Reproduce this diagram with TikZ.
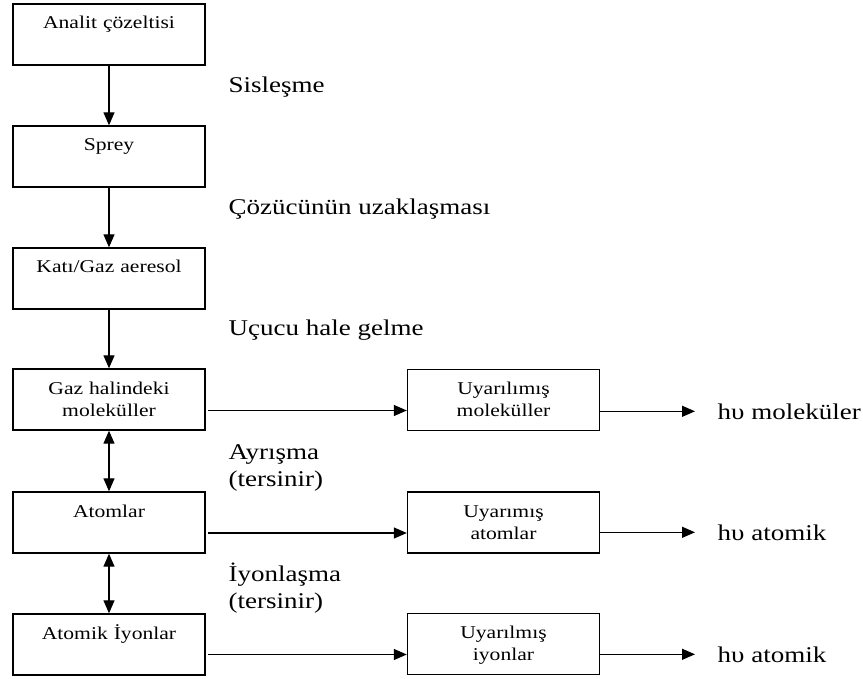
\documentclass[tikz,border=0pt]{standalone}
\usepackage{fontspec}
\setmainfont{Liberation Serif}[FakeStretch=1.2]
\usepackage{tikz}
\usetikzlibrary{arrows.meta}
\usetikzlibrary{calc}
\usetikzlibrary{positioning}

\newcommand{\boxfont}{\fontsize{18}{22}\selectfont}
\newcommand{\labfont}{\fontsize{22.5}{27}\selectfont}

\tikzset{
  box/.style={draw=black, line width=1.4pt, text width=186pt, align=center,
    inner xsep=3pt, inner ysep=0pt, text height=25pt, text depth=36pt, font=\boxfont},
  lab/.style={anchor=base west, inner sep=0pt, font=\labfont},
  lab2/.style={lab, text width=140pt, align=left},
  >={Triangle[length=13pt,width=11pt]}
}

\begin{document}
\begin{tikzpicture}[x=1pt, y=-1pt, line width=1.3pt]
    \useasboundingbox (0,0) rectangle (863,679);
    \node[box] (A) at (109,34.5) {Analit çözeltisi};
    \node[box] (B) at (109,156.5) {Sprey};
    \node[box] (C) at (109,278.5) {Katı/Gaz aeresol};
    \node[box] (D) at (109,399.5) {Gaz halindeki\\moleküller};
    \node[box] (E) at (109,522.5) {Atomlar};
    \node[box] (F) at (109,644.5) {Atomik İyonlar};
    \node[box] (G1) at (503.5,400) {Uyarılımış\\moleküller};
    \node[box] (G2) at (503.5,522.5) {Uyarımış\\atomlar};
    \node[box] (G3) at (503.5,644) {Uyarılmış\\iyonlar};
    \node[lab] (H1) at (717,419) {hυ moleküler};
    \node[lab] (H2) at (717,540) {hυ atomik};
    \node[lab] (H3) at (717,662) {hυ atomik};
    \node[lab] (L1) at (228,93) {Sisleşme};
    \node[lab] (L2) at (228,215) {Çözücünün uzaklaşması};
    \node[lab] (L3) at (228,336) {Uçucu hale gelme};
    \node[lab2] (L4) at (228,459) {Ayrışma\\(tersinir)};
    \node[lab2] (L5) at (228,581) {İyonlaşma\\(tersinir)};
    \path [->] (A) edge (B);
    \path [->] (B) edge (C);
    \path [->] (C) edge (D);
    \path [<->] (D) edge (E);
    \path [<->] (E) edge (F);
    \path [->, shorten <=2.5pt] ([yshift=-11pt]D.east) edge ([yshift=-11pt]D.east -| G1.west);
    \path [->, shorten <=2.5pt] ([yshift=-10.5pt]E.east) edge ([yshift=-10.5pt]E.east -| G2.west);
    \path [->, shorten <=2.5pt] ([yshift=-10pt]F.east) edge ([yshift=-10pt]F.east -| G3.west);
    \path [->, shorten >=22pt] (H1.west -| G1.east) edge (H1.west);
    \path [->, shorten >=22pt] (H2.west -| G2.east) edge (H2.west);
    \path [->, shorten >=22pt] (H3.west -| G3.east) edge (H3.west);
  \end{tikzpicture}
\end{document}
